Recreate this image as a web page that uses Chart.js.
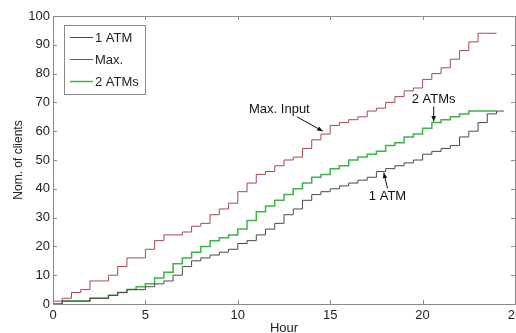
<!DOCTYPE html>
<html>
<head>
<meta charset="utf-8">
<script src="https://cdn.jsdelivr.net/npm/chart.js@4/dist/chart.umd.min.js"></script>
<style>
html,body{margin:0;padding:0;background:#fff;overflow:hidden;width:516px;height:333px;}
#wrap{position:absolute;left:0;top:0;width:540px;height:336px;}
</style>
</head>
<body>
<div id="wrap"><canvas id="c" width="540" height="336"></canvas></div>
<script>
// ---- data ----
const hours = [0,0.5,1,1.5,2,2.5,3,3.5,4,4.5,5,5.5,6,6.5,7,7.5,8,8.5,9,9.5,10,10.5,11,11.5,12,12.5,13,13.5,14,14.5,15,15.5,16,16.5,17,17.5,18,18.5,19,19.5,20,20.5,21,21.5,22,22.5,23,23.5,24];
const maxInput = [1,2,4,5,8,8,10,13,16,16,19,22,24,24,25,27,28,31,33,35,39,42,45,46,48,50,51,54,57,59,62,63,64,65,67,68,70,72,74,75,78,80,82,85,88,91,94,94,94];
const twoATMs  = [0,1,1,1,2,2,3,4,5,6,7,9,11,14,16,18,20,22,23,24,26,29,32,34,36,38,40,42,44,45,47,48,50,51,52,53,55,56,58,59,61,63,64,65,66,67,67,67,67];
const oneATM   = [0,1,1,1,2,2,3,4,5,5,6,7,8,10,13,15,16,17,18,19,21,22,24,26,28,31,33,36,38,39,40,41,42,43,44,46,47,48,49,50,52,53,54,55,58,60,63,66,67];
const oneATMEndHour = 24.4, oneATMEndValue = 67;
const seriesLabels = ["1 ATM","Max.","2 ATMs"];
const xTicks = [0,5,10,15,20,25];
const yTicks = [0,10,20,30,40,50,60,70,80,90,100];
// annotations: text position and arrow tail/tip in data units (hour, clients)
const annotations = [
  {text:"Max. Input", tx:12.25, ty:67.7, ax:13.2, ay:65.0, bx:14.6, by:60.0},
  {text:"2 ATMs",     tx:20.6,  ty:71.2, ax:20.6, ay:68.6, bx:20.6, by:63.4},
  {text:"1 ATM",      tx:18.1,  ty:37.2, ax:18.1, ay:40.2, bx:17.9, by:45.6}
];

const pts = (xs, ys) => xs.map((x,i)=>({x:x,y:ys[i]}));
const oneATMPts = pts(hours, oneATM).concat([{x:oneATMEndHour,y:oneATMEndValue}]);

const FONT = "'Liberation Sans', Arial, sans-serif";
const colors = {one:"#4a4a4a", max:"#a34a4e", two:"#3db446"};

const framePlugin = {
  id:'frame',
  afterDraw(chart){
    const ctx = chart.ctx, a = chart.chartArea;
    const xs = chart.scales.x, ys = chart.scales.y;
    ctx.save();
    ctx.strokeStyle = "#8a8a8a";
    ctx.lineWidth = 1;
    ctx.strokeRect(Math.round(a.left)+0.5, Math.round(a.top)+0.5, Math.round(a.right-a.left), Math.round(a.bottom-a.top));
    const tl = 4;
    ctx.beginPath();
    xTicks.forEach(v=>{
      const px = Math.round(xs.getPixelForValue(v))+0.5;
      ctx.moveTo(px, a.bottom); ctx.lineTo(px, a.bottom-tl);
      ctx.moveTo(px, a.top); ctx.lineTo(px, a.top+tl);
    });
    yTicks.forEach(v=>{
      const py = Math.round(ys.getPixelForValue(v))+0.5;
      ctx.moveTo(a.left, py); ctx.lineTo(a.left+tl, py);
      ctx.moveTo(a.right, py); ctx.lineTo(a.right-tl, py);
    });
    ctx.stroke();

    // legend box
    const lx = a.left+11, ly = a.top+9, lw = 81, lh = 69;
    ctx.fillStyle="#fff";
    ctx.fillRect(lx,ly,lw,lh);
    ctx.strokeStyle="#8a8a8a";
    ctx.strokeRect(Math.round(lx)+0.5, Math.round(ly)+0.5, lw, lh);
    ctx.font = "13px "+FONT;
    ctx.textBaseline="middle";
    ctx.textAlign="left";
    chart.data.datasets.forEach((ds,i)=>{
      const ry = ly + 12 + i*22;
      ctx.strokeStyle = ds.borderColor;
      ctx.lineWidth = ds.borderWidth;
      ctx.beginPath(); ctx.moveTo(lx+6, ry+0.5); ctx.lineTo(lx+29, ry+0.5); ctx.stroke();
      ctx.fillStyle="#222";
      ctx.fillText(ds.label, lx+31, ry+1);
    });

    // annotations
    ctx.fillStyle="#111"; ctx.strokeStyle="#111"; ctx.lineWidth=1;
    ctx.textAlign="center";
    annotations.forEach(an=>{
      const tx = xs.getPixelForValue(an.tx), ty = ys.getPixelForValue(an.ty);
      ctx.fillText(an.text, tx, ty);
      const x1 = xs.getPixelForValue(an.ax), y1 = ys.getPixelForValue(an.ay);
      const x2 = xs.getPixelForValue(an.bx), y2 = ys.getPixelForValue(an.by);
      ctx.beginPath(); ctx.moveTo(x1,y1); ctx.lineTo(x2,y2); ctx.stroke();
      const ang = Math.atan2(y2-y1, x2-x1), hl=6, hw=0.4;
      ctx.beginPath();
      ctx.moveTo(x2,y2);
      ctx.lineTo(x2-hl*Math.cos(ang-hw), y2-hl*Math.sin(ang-hw));
      ctx.lineTo(x2-hl*Math.cos(ang+hw), y2-hl*Math.sin(ang+hw));
      ctx.closePath(); ctx.fill();
    });
    ctx.restore();
  }
};

new Chart(document.getElementById('c'), {
  type:'line',
  data:{datasets:[
    {label:seriesLabels[0], data:oneATMPts, borderColor:colors.one, borderWidth:1, stepped:true, pointRadius:0, fill:false},
    {label:seriesLabels[1], data:pts(hours,maxInput), borderColor:colors.max, borderWidth:1, stepped:true, pointRadius:0, fill:false},
    {label:seriesLabels[2], data:pts(hours,twoATMs), borderColor:colors.two, borderWidth:1.5, stepped:true, pointRadius:0, fill:false}
  ]},
  options:{
    responsive:false, animation:false, devicePixelRatio:1,
    layout:{padding:{top:16,right:25,left:0,bottom:0}},
    plugins:{legend:{display:false}, tooltip:{enabled:false}},
    scales:{
      x:{type:'linear', min:0, max:25,
         afterBuildTicks(s){ s.ticks = xTicks.map(v=>({value:v})); },
         afterFit(s){ s.height = 32; },
         grid:{display:false, drawTicks:false}, border:{display:false},
         ticks:{padding:4, color:"#222", font:{family:FONT,size:13}, maxRotation:0, autoSkip:false},
         title:{display:true, text:"Hour", color:"#222", font:{family:FONT,size:13}, padding:{top:0,bottom:0}}
      },
      y:{type:'linear', min:0, max:100,
         afterBuildTicks(s){ s.ticks = yTicks.map(v=>({value:v})); },
         afterFit(s){ s.width = 53; },
         grid:{display:false, drawTicks:false}, border:{display:false},
         ticks:{padding:3, color:"#222", font:{family:FONT,size:13}, autoSkip:false},
         title:{display:true, text:"Nom. of clients", color:"#222", font:{family:FONT,size:12}, padding:{top:11,bottom:0}}
      }
    }
  },
  plugins:[framePlugin]
});
</script>
</body>
</html>
